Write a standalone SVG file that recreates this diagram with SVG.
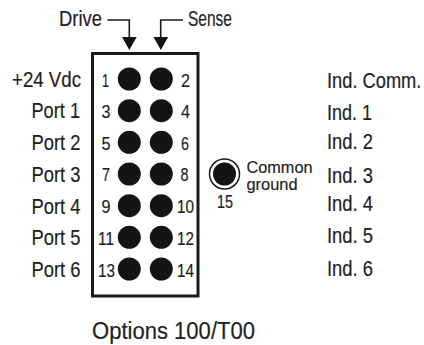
<svg xmlns="http://www.w3.org/2000/svg" width="424" height="345" viewBox="0 0 424 345">
<style>
text{font-family:"Liberation Sans",Arial,sans-serif;fill:#1f1f1f;font-size:21.500px;stroke:#1f1f1f;stroke-width:.2}
.n{font-size:18px}
.s{font-size:16.500px}
.o{font-size:23px}
.p{fill:#141414}
.c{fill:none;stroke:#1a1a1a;stroke-width:1.6}
</style>
<rect width="424" height="345" fill="#fff"/>
<g id="connectors">
<path d="M107.500 20H129.300V37" class="c"/><path d="M122 37H136.700L129.300 50Z" class="p"/>
<path d="M183 20H160.700V37" class="c"/><path d="M153.500 37H168.200L160.800 50Z" class="p"/>
</g>
<g id="header"><rect x="92.500" y="53.500" width="105.500" height="242.500" fill="none" stroke="#1a1a1a" stroke-width="3"/></g>
<g id="pins">
<circle cx="129.300" cy="79" r="11.500" class="p"/><circle cx="161.300" cy="79" r="11.500" class="p"/>
<circle cx="129.300" cy="110.700" r="11.500" class="p"/><circle cx="161.300" cy="110.700" r="11.500" class="p"/>
<circle cx="129.300" cy="142.300" r="11.500" class="p"/><circle cx="161.300" cy="142.300" r="11.500" class="p"/>
<circle cx="129.300" cy="174" r="11.500" class="p"/><circle cx="161.300" cy="174" r="11.500" class="p"/>
<circle cx="129.300" cy="205.700" r="11.500" class="p"/><circle cx="161.300" cy="205.700" r="11.500" class="p"/>
<circle cx="129.300" cy="237.300" r="11.500" class="p"/><circle cx="161.300" cy="237.300" r="11.500" class="p"/>
<circle cx="129.300" cy="269" r="11.500" class="p"/><circle cx="161.300" cy="269" r="11.500" class="p"/>
</g>
<g id="ground"><circle cx="224.500" cy="174" r="11.500" class="p"/><circle cx="224.500" cy="174" r="15" fill="none" stroke="#1a1a1a" stroke-width="1.500"/></g>
<g id="labels">
<text x="59" y="26" textLength="43" lengthAdjust="spacingAndGlyphs">Drive</text>
<text x="188" y="26" textLength="44" lengthAdjust="spacingAndGlyphs">Sense</text>
<text x="12" y="87" textLength="69" lengthAdjust="spacingAndGlyphs">+24 Vdc</text>
<text x="31.500" y="118" textLength="48.500" lengthAdjust="spacingAndGlyphs">Port 1</text>
<text x="31.500" y="150" textLength="49" lengthAdjust="spacingAndGlyphs">Port 2</text>
<text x="31.500" y="182" textLength="49" lengthAdjust="spacingAndGlyphs">Port 3</text>
<text x="31.500" y="213.500" textLength="49" lengthAdjust="spacingAndGlyphs">Port 4</text>
<text x="31.500" y="244.500" textLength="49" lengthAdjust="spacingAndGlyphs">Port 5</text>
<text x="31.500" y="276.500" textLength="49" lengthAdjust="spacingAndGlyphs">Port 6</text>
<text class="n" x="102" y="87" textLength="7" lengthAdjust="spacingAndGlyphs">1</text>
<text class="n" x="181" y="87" textLength="9" lengthAdjust="spacingAndGlyphs">2</text>
<text class="n" x="101.500" y="118" textLength="9" lengthAdjust="spacingAndGlyphs">3</text>
<text class="n" x="181" y="118" textLength="9" lengthAdjust="spacingAndGlyphs">4</text>
<text class="n" x="101.500" y="149.500" textLength="9" lengthAdjust="spacingAndGlyphs">5</text>
<text class="n" x="181" y="149.500" textLength="8" lengthAdjust="spacingAndGlyphs">6</text>
<text class="n" x="102" y="181" textLength="8" lengthAdjust="spacingAndGlyphs">7</text>
<text class="n" x="180.500" y="181" textLength="8" lengthAdjust="spacingAndGlyphs">8</text>
<text class="n" x="101.500" y="213" textLength="9" lengthAdjust="spacingAndGlyphs">9</text>
<text class="n" x="177" y="213" textLength="17" lengthAdjust="spacingAndGlyphs">10</text>
<text class="n" x="98" y="245" textLength="16" lengthAdjust="spacingAndGlyphs">11</text>
<text class="n" x="177" y="245" textLength="17" lengthAdjust="spacingAndGlyphs">12</text>
<text class="n" x="98" y="277" textLength="17" lengthAdjust="spacingAndGlyphs">13</text>
<text class="n" x="177" y="277" textLength="17" lengthAdjust="spacingAndGlyphs">14</text>
<text class="n" x="217" y="208" textLength="16" lengthAdjust="spacingAndGlyphs">15</text>
<text class="s" x="246.500" y="173" textLength="66" lengthAdjust="spacingAndGlyphs">Common</text>
<text class="s" x="246.500" y="190" textLength="51" lengthAdjust="spacingAndGlyphs">ground</text>
<text transform="translate(327 88) scale(.85 1)">Ind. Comm.</text>
<text x="327" y="120" textLength="45" lengthAdjust="spacingAndGlyphs">Ind. 1</text>
<text x="327" y="149" textLength="46" lengthAdjust="spacingAndGlyphs">Ind. 2</text>
<text x="327" y="183" textLength="46" lengthAdjust="spacingAndGlyphs">Ind. 3</text>
<text x="327" y="211" textLength="46" lengthAdjust="spacingAndGlyphs">Ind. 4</text>
<text x="327" y="243" textLength="46" lengthAdjust="spacingAndGlyphs">Ind. 5</text>
<text x="327" y="276" textLength="46" lengthAdjust="spacingAndGlyphs">Ind. 6</text>
<text class="o" x="92" y="339" textLength="163" lengthAdjust="spacingAndGlyphs">Options 100/T00</text>
</g>
</svg>
